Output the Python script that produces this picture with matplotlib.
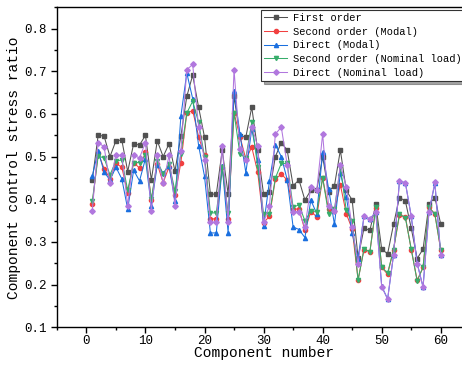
import matplotlib
matplotlib.use('Agg')
import matplotlib.pyplot as plt
import numpy as np

# Component numbers and stress ratios
component = list(range(1, 61))

first_order = [0.445, 0.550, 0.548, 0.500, 0.537, 0.539, 0.465, 0.530, 0.527, 0.550,
               0.445, 0.537, 0.500, 0.530, 0.466, 0.548, 0.641, 0.691, 0.616, 0.546,
               0.412, 0.412, 0.515, 0.412, 0.641, 0.548, 0.546, 0.616, 0.515, 0.412,
               0.418, 0.500, 0.533, 0.515, 0.432, 0.445, 0.398, 0.421, 0.421, 0.500,
               0.418, 0.432, 0.515, 0.421, 0.398, 0.263, 0.332, 0.327, 0.388, 0.283,
               0.272, 0.341, 0.404, 0.396, 0.332, 0.261, 0.283, 0.388, 0.404, 0.341]

second_modal = [0.388, 0.508, 0.472, 0.448, 0.484, 0.475, 0.415, 0.486, 0.473, 0.510,
                0.398, 0.483, 0.439, 0.476, 0.409, 0.486, 0.602, 0.608, 0.547, 0.503,
                0.354, 0.354, 0.476, 0.354, 0.602, 0.547, 0.494, 0.522, 0.464, 0.345,
                0.360, 0.447, 0.459, 0.445, 0.377, 0.377, 0.327, 0.371, 0.359, 0.450,
                0.376, 0.373, 0.434, 0.366, 0.330, 0.211, 0.282, 0.277, 0.379, 0.240,
                0.224, 0.282, 0.362, 0.359, 0.282, 0.210, 0.240, 0.382, 0.365, 0.280]

direct_modal = [0.454, 0.514, 0.464, 0.445, 0.475, 0.448, 0.377, 0.468, 0.443, 0.495,
                0.384, 0.481, 0.461, 0.478, 0.395, 0.595, 0.696, 0.636, 0.526, 0.454,
                0.321, 0.321, 0.478, 0.321, 0.655, 0.553, 0.462, 0.565, 0.492, 0.338,
                0.443, 0.528, 0.500, 0.446, 0.335, 0.329, 0.310, 0.398, 0.366, 0.510,
                0.425, 0.341, 0.461, 0.406, 0.320, 0.261, 0.360, 0.354, 0.370, 0.196,
                0.166, 0.269, 0.442, 0.439, 0.360, 0.250, 0.194, 0.370, 0.437, 0.269]

second_nominal = [0.395, 0.501, 0.497, 0.457, 0.490, 0.492, 0.421, 0.486, 0.486, 0.503,
                  0.400, 0.490, 0.459, 0.483, 0.420, 0.506, 0.602, 0.630, 0.580, 0.500,
                  0.368, 0.368, 0.476, 0.368, 0.603, 0.506, 0.497, 0.580, 0.476, 0.366,
                  0.366, 0.450, 0.484, 0.484, 0.381, 0.387, 0.349, 0.373, 0.371, 0.450,
                  0.366, 0.376, 0.476, 0.374, 0.349, 0.210, 0.283, 0.277, 0.381, 0.241,
                  0.227, 0.282, 0.365, 0.357, 0.283, 0.208, 0.241, 0.381, 0.365, 0.282]

direct_nominal = [0.373, 0.533, 0.523, 0.437, 0.503, 0.503, 0.385, 0.503, 0.497, 0.533,
                  0.373, 0.503, 0.437, 0.503, 0.385, 0.514, 0.704, 0.716, 0.570, 0.492,
                  0.346, 0.346, 0.525, 0.346, 0.704, 0.517, 0.492, 0.570, 0.525, 0.346,
                  0.385, 0.553, 0.569, 0.481, 0.371, 0.371, 0.334, 0.429, 0.421, 0.553,
                  0.385, 0.373, 0.481, 0.429, 0.334, 0.249, 0.360, 0.354, 0.370, 0.194,
                  0.166, 0.269, 0.442, 0.439, 0.360, 0.249, 0.194, 0.370, 0.440, 0.269]

series = [
    ('First order', first_order, '#515151', 's'),
    ('Second order (Modal)', second_modal, '#F14040', 'o'),
    ('Direct (Modal)', direct_modal, '#1A6FDF', '^'),
    ('Second order (Nominal load)', second_nominal, '#37AD6B', 'v'),
    ('Direct (Nominal load)', direct_nominal, '#B177DE', 'D'),
]

plt.rcParams['font.family'] = ['Liberation Mono', 'DejaVu Sans Mono']

fig = plt.figure(figsize=(4.62, 3.68), dpi=100)
ax = fig.add_axes([0.123, 0.111, 0.895, 0.869])

for label, vals, color, marker in series:
    ms = 3.0 if marker != 'D' else 2.8
    ax.plot(component, vals, color=color, marker=marker, markersize=ms,
            linewidth=0.75, label=label)

ax.set_xlim(-5, 65)
ax.set_ylim(0.1, 0.85)
ax.set_xticks(np.arange(0, 61, 10))
ax.set_xticks(np.arange(-5, 65, 5), minor=True)
ax.set_yticks(np.arange(0.1, 0.81, 0.1))
ax.set_yticks(np.arange(0.1, 0.86, 0.05), minor=True)
ax.set_yticklabels(['0.1', '0.2', '0.3', '0.4', '0.5', '0.6', '0.7', '0.8'])
ax.tick_params(which='major', direction='out', length=4, width=1, labelsize=9)
ax.tick_params(which='minor', direction='out', length=2.5, width=1)
ax.tick_params(axis='x', pad=2)
for sp in ax.spines.values():
    sp.set_linewidth(1.0)

ax.set_xlabel('Component number', fontsize=10.5, labelpad=-1)
ax.set_ylabel('Component control stress ratio', fontsize=10.5, labelpad=2)

leg = ax.legend(loc='upper left', bbox_to_anchor=(261 / 462, 1 - 10 / 368),
                bbox_transform=fig.transFigure, fontsize=7.5, frameon=True,
                fancybox=False, shadow=True, handlelength=2.2, handletextpad=0.6,
                labelspacing=0.35, borderpad=0.3, borderaxespad=0)
leg.get_frame().set_edgecolor('#333333')
leg.get_frame().set_linewidth(0.8)

fig.savefig('out.png', dpi=100)
